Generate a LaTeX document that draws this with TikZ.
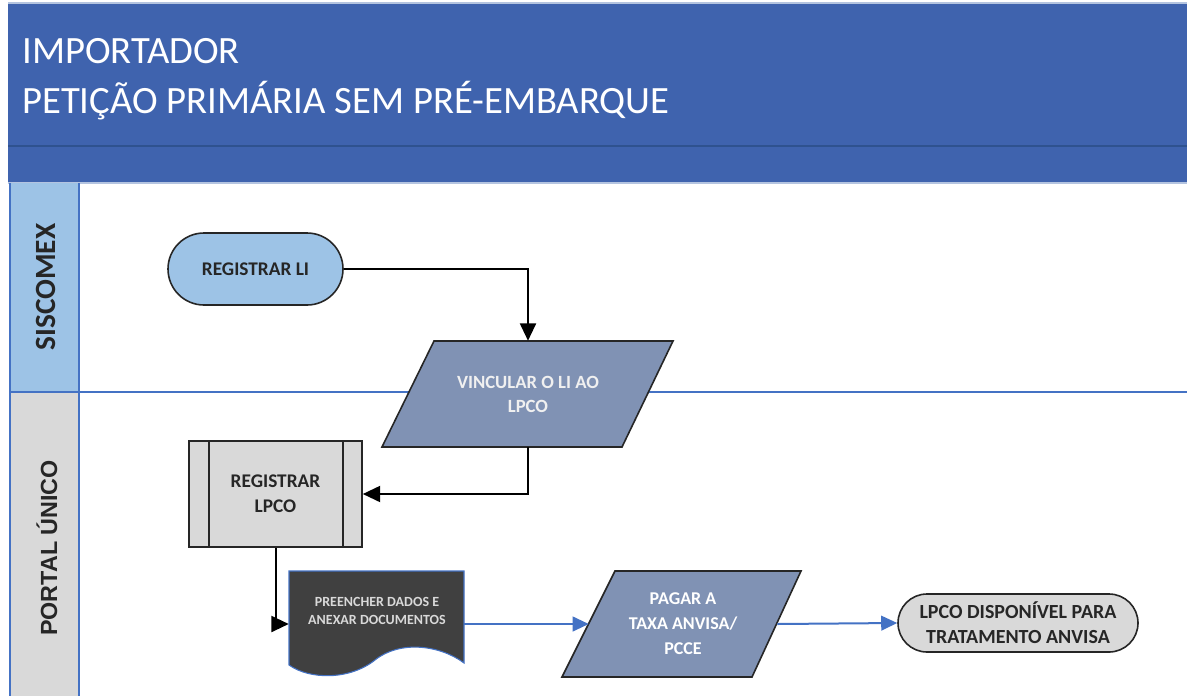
\documentclass[tikz,border=0pt]{standalone}
\usepackage{fontspec}
\setmainfont{Carlito}
\newfontfamily\lanefont{Liberation Sans}
\usetikzlibrary{arrows.meta}
\definecolor{hdrblue}{RGB}{63,99,174}
\definecolor{hdrline}{RGB}{47,82,143}
\definecolor{hdrtop}{RGB}{180,196,224}
\definecolor{lanelight}{RGB}{157,195,230}
\definecolor{lanegray}{RGB}{217,217,217}
\definecolor{laneline}{RGB}{68,114,196}
\definecolor{slate}{RGB}{128,146,180}
\definecolor{docgray}{RGB}{64,64,64}
\definecolor{ink}{RGB}{38,38,38}
\definecolor{flowblue}{RGB}{68,114,196}
\definecolor{paletext}{RGB}{240,240,240}
\tikzset{
  shapeline/.style={draw=ink, line width=1.2pt},
  stadium/.style={shapeline, rounded corners=#1, align=center, inner sep=0pt},
  txtbox/.style={align=center, inner sep=0pt},
  blk/.style={draw=black, line width=1.5pt, -{Triangle[length=13pt,width=12pt]}},
  blu/.style={draw=flowblue, line width=1.5pt, -{Triangle[length=12pt,width=11pt]}},
  laneln/.style={draw=laneline, line width=1.5pt},
  hdrtxt/.style={anchor=base west, inner sep=0pt, text=white, font=\fontsize{29}{34}\selectfont},
}
\begin{document}
\begin{tikzpicture}[x=0.75pt,y=-0.75pt]
\useasboundingbox (0,0) rectangle (1187,696);
% header
\fill[hdrblue] (8,4) rectangle (1187,182);
\draw[hdrtop, line width=1pt] (8,3) -- (1187,3);
\draw[hdrline, line width=1.2pt] (8,146) -- (1187,146);
\draw[hdrtop, line width=1pt] (8,183) -- (1187,183);
\node[hdrtxt] (t1) at (22,63) {IMPORTADOR};
\node[hdrtxt] (t2) at (22,113) {PETIÇÃO PRIMÁRIA SEM PRÉ-EMBARQUE};
% lanes
\fill[lanelight] (10,183) rectangle (79,392);
\fill[lanegray] (10,392) rectangle (79,696);
\draw[laneln] (10,183) -- (10,696);
\draw[laneln] (79,183) -- (79,696);
\draw[laneln] (10,392) -- (1187,392);
\node[rotate=90, text=ink, font=\bfseries\fontsize{22}{26}\selectfont] (siscomex) at (46,287) {SISCOMEX};
\node[rotate=90, text=ink, font=\lanefont\bfseries\fontsize{17.5}{20}\selectfont] (portal) at (47,548) {PORTAL ÚNICO};
% REGISTRAR LI
\node[stadium=27pt, fill=lanelight, minimum width=131.25pt, minimum height=54pt,
      text=ink, font=\bfseries\fontsize{14.5}{17}\selectfont] (regli) at (255.5,269) {REGISTRAR LI};
% VINCULAR
\filldraw[shapeline, fill=slate] (434,341) -- (673,341) -- (622,447) -- (382,447) -- cycle;
\node[txtbox, minimum width=180pt, minimum height=79.5pt, text=paletext,
      font=\bfseries\fontsize{14}{18}\selectfont] (vinc) at (528,394) {VINCULAR O LI AO\\LPCO};
% REGISTRAR LPCO
\node[shapeline, fill=lanegray, txtbox, minimum width=129.75pt, minimum height=79.5pt,
      text=ink, font=\bfseries\fontsize{14.5}{18.75}\selectfont] (lpco) at (275.5,494) {REGISTRAR\\LPCO};
\draw[shapeline] ([xshift=15.75pt]lpco.north west) -- ([xshift=15.75pt]lpco.south west);
\draw[shapeline] ([xshift=-15pt]lpco.north east) -- ([xshift=-15pt]lpco.south east);
% document
\filldraw[fill=docgray, draw=flowblue, line width=0.8pt] (289,571) -- (464,571) -- (464,663)
   .. controls (440,645) and (400,640) .. (375,660)
   .. controls (350,680) and (310,680) .. (289,665) -- cycle;
\node[txtbox, minimum width=131.25pt, minimum height=79.5pt] (doc) at (376.5,624) {};
\node[txtbox, text=lanegray, font=\bfseries\fontsize{10.5}{13.5}\selectfont] (doctxt) at (377,611) {PREENCHER DADOS E\\ANEXAR DOCUMENTOS};
% PAGAR
\filldraw[shapeline, fill=slate] (615,571) -- (801,571) -- (752,677) -- (562,677) -- cycle;
\node[txtbox, minimum width=141pt, minimum height=79.5pt, text=white,
      font=\bfseries\fontsize{13.5}{18.75}\selectfont] (pagar) at (683,624) {PAGAR A\\TAXA ANVISA/\\PCCE};
% LPCO DISPONIVEL
\node[stadium=21.75pt, fill=lanegray, minimum width=180pt, minimum height=43.5pt,
      text=ink, font=\bfseries\fontsize{15}{18.75}\selectfont] (lpcod) at (1018,623) {LPCO DISPONÍVEL PARA\\TRATAMENTO ANVISA};
% connectors
\draw[blk] (regli.east) -| (vinc.north);
\draw[blk] (vinc.south) |- (lpco.east);
\draw[blk] (lpco.south) |- (doc.west);
\draw[blu] (doc.east) -- (pagar.west);
\draw[blu] (pagar.east) -- (lpcod.west);
\end{tikzpicture}
\end{document}
